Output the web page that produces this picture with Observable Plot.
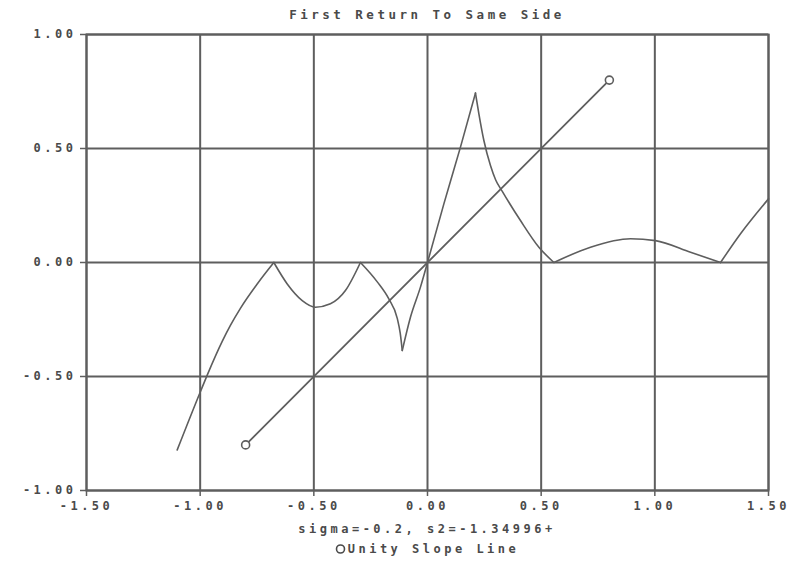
<!DOCTYPE html>
<html>
<head>
<meta charset="utf-8">
<script src="https://cdn.jsdelivr.net/npm/d3@7"></script>
<script src="https://cdn.jsdelivr.net/npm/@observablehq/plot@0.6"></script>
<style>
  body { margin: 0; background: #fff; }
  #wrap { width: 799px; font-family: "DejaVu Sans Mono", monospace; color: #4a4a4a; font-weight: bold; }
  .txt { box-sizing: border-box; padding-left: 86px; padding-right: 31px; text-align: center;
         font-size: 12px; letter-spacing: 3.5px; }
  #title { height: 24px; line-height: 30px; font-size: 12.5px; }
  #cap1 { height: 18px; line-height: 18px; }
  #cap2 { height: 20px; line-height: 22px; }
</style>
</head>
<body>
<div id="wrap">
  <div id="title" class="txt">First Return To Same Side</div>
  <div id="chart"></div>
  <div id="cap1" class="txt">sigma=-0.2, s2=-1.34996+</div>
  <div id="cap2" class="txt"><svg width="11" height="10" style="vertical-align:-1px;margin-right:2px"><circle cx="5.5" cy="5" r="4" fill="none" stroke="#4a4a4a" stroke-width="1.6"/></svg>Unity Slope Line</div>
</div>
<script>
// Main curve: first return to same side
const curveX = [-1.101, -1.000, -0.969, -0.903, -0.867, -0.823, -0.749, -0.676,
                -0.617, -0.551, -0.493, -0.427, -0.361, -0.295,
                -0.221, -0.170, -0.133, -0.120, -0.111, -0.075, -0.031, 0.0,
                0.072, 0.145, 0.211, 0.226, 0.248, 0.277, 0.300, 0.329, 0.409, 0.490, 0.556,
                0.717, 0.893, 1.003, 1.157, 1.289, 1.377, 1.500];
const curveY = [-0.822, -0.569, -0.494, -0.346, -0.276, -0.201, -0.094, 0.0,
                -0.094, -0.167, -0.196, -0.181, -0.123, 0.0,
                -0.085, -0.160, -0.245, -0.310, -0.386, -0.240, -0.108, 0.0,
                0.257, 0.506, 0.743, 0.652, 0.535, 0.425, 0.362, 0.312, 0.184, 0.067, 0.0,
                0.067, 0.104, 0.096, 0.045, 0.0, 0.126, 0.279];
// x positions of the cusps where the curve bends sharply
const cuspX = [-0.676, -0.295, -0.111, 0.0, 0.211, 0.556, 1.289];
// Unity slope line
const unityX = [-0.8, 0.8];
const unityY = [-0.8, 0.8];
// Ticks
const xTicks = [-1.5, -1.0, -0.5, 0.0, 0.5, 1.0, 1.5];
const yTicks = [-1.0, -0.5, 0.0, 0.5, 1.0];

// split the curve into smooth arcs between cusps (cusp points shared)
const curve = [];
let seg = 0;
curveX.forEach((x, i) => {
  curve.push({x, y: curveY[i], seg});
  if (cuspX.includes(x)) { seg++; curve.push({x, y: curveY[i], seg}); }
});
const unity = unityX.map((x, i) => ({x, y: unityY[i]}));
const gray = "#5e5e5e";
const fmt = d => d.toFixed(2);

const chart = Plot.plot({
  width: 799,
  height: 496,
  marginLeft: 86,
  marginRight: 31,
  marginTop: 10,
  marginBottom: 30,
  style: {fontFamily: "'DejaVu Sans Mono', monospace", fontSize: "12px", fontWeight: "bold", letterSpacing: "3.5px", color: "#4a4a4a", background: "#fff"},
  x: {domain: [-1.5, 1.5], label: null},
  y: {domain: [-1, 1], label: null},
  marks: [
    Plot.gridX(xTicks, {stroke: gray, strokeOpacity: 1, strokeWidth: 2}),
    Plot.gridY(yTicks, {stroke: gray, strokeOpacity: 1, strokeWidth: 2}),
    Plot.frame({stroke: gray, strokeWidth: 2}),
    Plot.axisX(xTicks, {tickFormat: fmt, tickSize: 6, tickPadding: 5, stroke: gray, strokeWidth: 1.5, label: null}),
    Plot.axisY(yTicks, {tickFormat: fmt, tickSize: 6, tickPadding: 4, stroke: gray, strokeWidth: 1.5, label: null}),
    Plot.line(unity, {x: "x", y: "y", stroke: gray, strokeWidth: 1.8}),
    Plot.dot(unity, {x: "x", y: "y", r: 4, stroke: gray, strokeWidth: 1.6, fill: "white"}),
    Plot.line(curve, {x: "x", y: "y", z: "seg", stroke: gray, strokeWidth: 1.6, curve: "monotone-x"})
  ]
});
document.getElementById("chart").appendChild(chart);
</script>
</body>
</html>
